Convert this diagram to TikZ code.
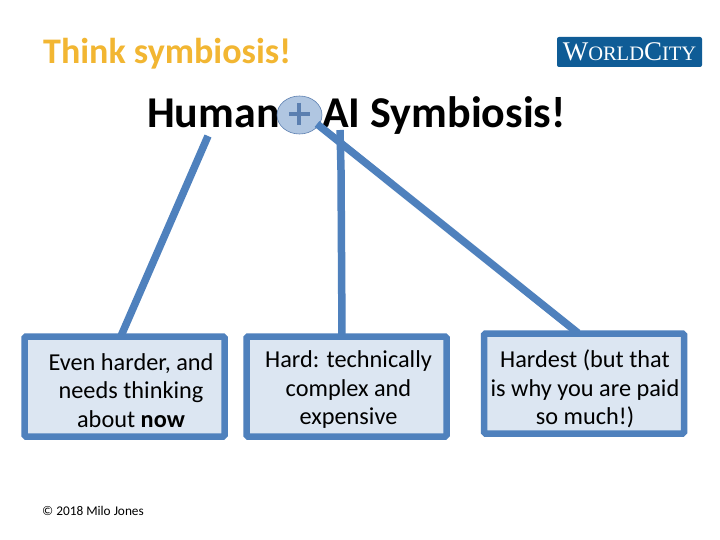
\documentclass[tikz,border=0pt]{standalone}
\usepackage{fontspec}
\usetikzlibrary{shapes.geometric,shadings}
\setmainfont{Carlito}
\newfontfamily\logofont{Liberation Serif}
\definecolor{linkblue}{HTML}{4F81BD}
\definecolor{boxfill}{HTML}{DCE6F2}
\definecolor{titleorange}{HTML}{F2B632}
\definecolor{logoblue}{HTML}{0F5C96}
\definecolor{plusblue}{HTML}{5B7FB0}
\tikzset{
  infobox/.style={draw=linkblue,line width=6.5pt,fill=boxfill,rounded corners=1.5pt,minimum width=200pt,minimum height=100pt,inner sep=0pt},
  infotext/.style={inner sep=0pt,align=center,font=\fontsize{24.3}{28.5}\selectfont,text=black},
  link/.style={draw=linkblue,line width=7.5pt},
  heading/.style={font=\bfseries\fontsize{44}{44}\selectfont,text=black,inner sep=0pt,anchor=base west},
}
\begin{document}
\begin{tikzpicture}[x=1pt,y=-1pt]
\useasboundingbox (0,0) rectangle (720,540);
\fill[white] (0,0) rectangle (720,540);
\node[font=\bfseries\fontsize{36}{36}\selectfont,text=titleorange,inner sep=0pt,anchor=base west] (title) at (43,64) {Think symbiosis!};
\node[fill=logoblue,rounded corners=2pt,minimum width=145pt,minimum height=30pt,inner sep=0pt,text=white] (logo) at (629.5,52) {\logofont\fontsize{27}{27}\selectfont W\fontsize{20.5}{20.5}\selectfont ORLD\fontsize{27}{27}\selectfont C\fontsize{20.5}{20.5}\selectfont ITY};
\node[heading] (human) at (147,128) {Human};
\node[heading] (ai) at (322,128) {AI Symbiosis!};
\node[ellipse,draw=plusblue,line width=0.6pt,top color=linkblue!45,middle color=linkblue!75,bottom color=linkblue!45,minimum width=45pt,minimum height=38pt,inner sep=0pt] (plus) at (299.5,115) {};
\draw[plusblue,line width=4pt] (289,114.5) -- (310,114.5) (299,103) -- (299,125);
\node[infobox] (b1) at (124.5,386.5) {};
\node[infobox] (b2) at (346.5,386.5) {};
\node[infobox] (b3) at (584,383.5) {};
\node[infotext] (t1) at (131,390.5) {Even harder, and\\needs thinking\\about \textbf{now}};
\node[infotext] (t2) at (348.5,390) {Hard: technically\\complex and\\expensive};
\node[infotext] (t3) at (585,389) {Hardest (but that\\is why you are paid\\so much!)};
\coordinate (s1) at (208,136);
\coordinate (e1) at (121,336);
\coordinate (s2) at (340,130);
\coordinate (m2) at (341,170);
\coordinate (e2) at (342,336);
\coordinate (s3) at (317,124);
\coordinate (e3) at (578,333);
\draw[link] (s1) -- (e1);
\draw[link] (s2) -- (m2) -- (e2);
\draw[link] (s3) -- (e3);
\node[font=\fontsize{13.3}{13.3}\selectfont,text=black,inner sep=0pt,anchor=base west] (copy) at (42,515) {© 2018 Milo Jones};
\end{tikzpicture}
\end{document}
